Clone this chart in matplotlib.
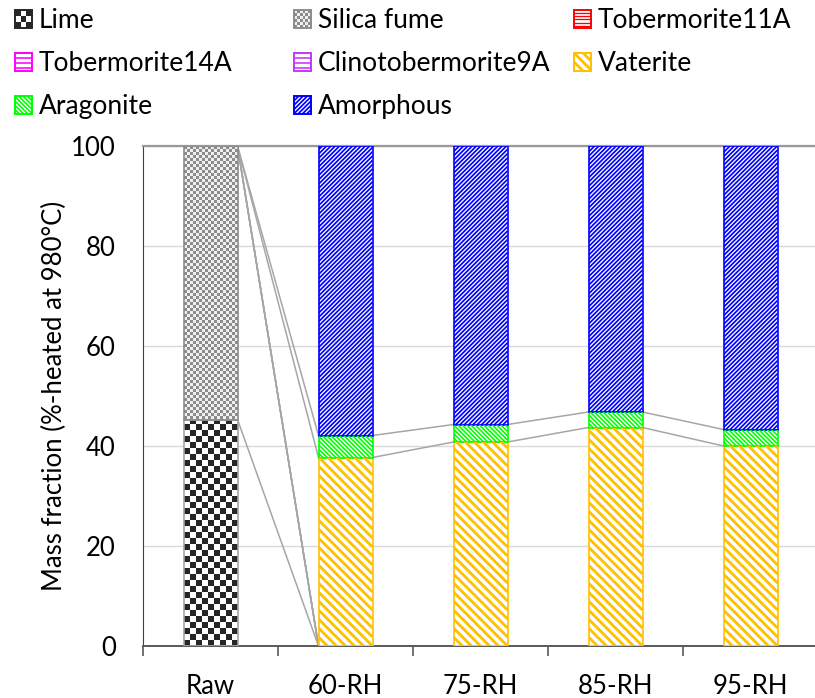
import numpy as np
import matplotlib
matplotlib.use("Agg")
import matplotlib.pyplot as plt
from matplotlib.patches import Rectangle
from matplotlib.collections import LineCollection
from matplotlib.legend_handler import HandlerBase
from matplotlib.colors import to_rgb

plt.rcParams["font.family"] = ["Lato", "DejaVu Sans"]

# sample groups and phase mass fractions (%)
categories = ["Raw", "60-RH", "75-RH", "85-RH", "95-RH"]
phases = ["Lime", "Silica fume", "Tobermorite11A", "Tobermorite14A",
          "Clinotobermorite9A", "Vaterite", "Aragonite", "Amorphous"]
lime = [45.3, 0.0, 0.0, 0.0, 0.0]
silica_fume = [54.7, 0.0, 0.0, 0.0, 0.0]
tobermorite11a = [0.0, 0.0, 0.0, 0.0, 0.0]
tobermorite14a = [0.0, 0.0, 0.0, 0.0, 0.0]
clinotobermorite9a = [0.0, 0.0, 0.0, 0.0, 0.0]
vaterite = [0.0, 37.7, 40.8, 43.7, 40.0]
aragonite = [0.0, 4.4, 3.5, 3.1, 3.3]
amorphous = [0.0, 57.9, 55.7, 53.2, 56.7]

series = [lime, silica_fume, tobermorite11a, tobermorite14a,
          clinotobermorite9a, vaterite, aragonite, amorphous]

DPI = 100
BAR_WIDTH = 0.40
FONT_TICK = 18.5
FONT_LEGEND = 19

# checkerboard fills: cell size in pixels
CHECKER = {
    "Lime": {"cell_px": 6.0, "dark": "#262626", "light": "#ffffff",
             "edge": "#a6a6a6", "legend_n": 3, "legend_edge": "#262626"},
    "Silica fume": {"cell_px": 3.0, "dark": "#8c8c8c", "light": "#f0f0f0",
                    "edge": "#8c8c8c", "legend_n": 6, "legend_edge": "#8c8c8c"},
}
# stripe fills: colour, direction ('/', '\\' or '-'), period in pixels, line width in pixels
STRIPES = {
    "Tobermorite11A": ("#FF0000", "-", 3.4, 1.3),
    "Tobermorite14A": ("#FF00FF", "-", 5.0, 1.6),
    "Clinotobermorite9A": ("#CC33FF", "-", 5.0, 1.6),
    "Vaterite": ("#FFC000", "\\", 9.0, 2.8),
    "Aragonite": ("#00FF00", "\\", 4.3, 1.6),
    "Amorphous": ("#0000FF", "/", 4.3, 1.7),
}


def stripe_segments(x0, y0, x1, y1, direction, period):
    # long segments across the box; clipping trims them to the box
    segs = []
    if direction == "-":
        for yy in np.arange(y0 + period / 2, y1, period):
            segs.append([(x0, yy), (x1, yy)])
    elif direction == "/":
        for c in np.arange(y0 - x1, y1 - x0 + period, period):
            segs.append([(x0, x0 + c), (x1, x1 + c)])
    else:
        for c in np.arange(x0 + y0, x1 + y1 + period, period):
            segs.append([(x0, c - x0), (x1, c - x1)])
    return segs


def stripe_fill(ax, bar, color, direction, period_px, lw_px):
    x, y, w, h = bar.get_x(), bar.get_y(), bar.get_width(), bar.get_height()
    (px0, py0), (px1, py1) = ax.transData.transform([(x, y), (x + w, y + h)])
    segs = stripe_segments(px0, py0, px1, py1, direction, period_px)
    inv = ax.transData.inverted()
    segs = [inv.transform(np.array(s)) for s in segs]
    lc = LineCollection(segs, colors=color, linewidths=lw_px * 72 / DPI,
                        zorder=bar.get_zorder() + 0.1)
    ax.add_collection(lc, autolim=False)
    lc.set_clip_path(bar)


def checker_fill(ax, bar, cell_px, dark, light):
    x, y, w, h = bar.get_x(), bar.get_y(), bar.get_width(), bar.get_height()
    p0, p1 = ax.transData.transform([(0, 0), (1, 1)])
    px_per_x, px_per_y = p1[0] - p0[0], p1[1] - p0[1]
    ncol = max(1, int(round(w * px_per_x / cell_px)))
    cell_y = cell_px / px_per_y
    nrow = int(np.ceil(h / cell_y))
    rr, cc = np.indices((nrow, ncol))
    mask = (rr + cc) % 2 == 0
    rgb = np.where(mask[..., None], np.array(to_rgb(dark)), np.array(to_rgb(light)))
    im = ax.imshow(rgb, extent=(x, x + w, y, y + nrow * cell_y), origin="lower",
                   interpolation="nearest", aspect="auto", zorder=2)
    im.set_clip_path(bar)


class CheckerHandler(HandlerBase):
    def __init__(self, n, dark, light, edge):
        super().__init__()
        self.n, self.dark, self.light, self.edge = n, dark, light, edge

    def create_artists(self, legend, orig_handle, xdescent, ydescent,
                       width, height, fontsize, trans):
        x0, y0 = -xdescent, -ydescent
        arts = [Rectangle((x0, y0), width, height, facecolor=self.light,
                          edgecolor="none", transform=trans)]
        cw, ch = width / self.n, height / self.n
        for r in range(self.n):
            for c in range(self.n):
                if (r + c) % 2 == 0:
                    arts.append(Rectangle((x0 + c * cw, y0 + r * ch), cw, ch,
                                          facecolor=self.dark, lw=0, transform=trans))
        arts.append(Rectangle((x0, y0), width, height, facecolor="none",
                              edgecolor=self.edge, lw=1.4, transform=trans))
        return arts


class StripeHandler(HandlerBase):
    def __init__(self, color, direction, period_px, lw_px):
        super().__init__()
        self.color, self.direction = color, direction
        self.period, self.lw = period_px, lw_px

    def create_artists(self, legend, orig_handle, xdescent, ydescent,
                       width, height, fontsize, trans):
        x0, y0 = -xdescent, -ydescent
        box = Rectangle((x0, y0), width, height, facecolor="white",
                        edgecolor=self.color, lw=1.4, transform=trans)
        # handle box units are points
        segs = stripe_segments(x0, y0, x0 + width, y0 + height, self.direction,
                               self.period * 72 / DPI)
        lc = LineCollection(segs, colors=self.color, linewidths=self.lw * 72 / DPI,
                            transform=trans)
        lc.set_clip_path(box)
        return [box, lc]


fig = plt.figure(figsize=(8.15, 6.98), dpi=DPI)
ax = fig.add_axes([143 / 815, 52 / 698, 675 / 815, 500 / 698])

x = np.arange(len(categories))
ax.set_xlim(-0.5, len(categories) - 0.5)
ax.set_ylim(0, 100)

bottom = np.zeros(len(categories))
tops = []
handles = {}
handler_map = {}
for name, values in zip(phases, series):
    vals = np.array(values, dtype=float)
    if name in CHECKER:
        cfg = CHECKER[name]
        bars = ax.bar(x, vals, BAR_WIDTH, bottom=bottom, facecolor="none",
                      edgecolor=cfg["edge"], linewidth=1.2, zorder=3)
        for b, v in zip(bars, vals):
            if v > 0:
                checker_fill(ax, b, cfg["cell_px"], cfg["dark"], cfg["light"])
        handler = CheckerHandler(cfg["legend_n"], cfg["dark"], cfg["light"], cfg["legend_edge"])
    else:
        color, direction, period, lw = STRIPES[name]
        bars = ax.bar(x, vals, BAR_WIDTH, bottom=bottom, facecolor="white",
                      edgecolor=color, linewidth=1.2, zorder=3)
        for b, v in zip(bars, vals):
            if v > 0:
                stripe_fill(ax, b, color, direction, period, lw)
        handler = StripeHandler(color, direction, period, lw)
    for b, v in zip(bars, vals):
        if v <= 0:
            b.set_visible(False)
    handles[name] = Rectangle((0, 0), 1, 1)
    handler_map[handles[name]] = handler
    bottom = bottom + vals
    tops.append(bottom.copy())

# series lines joining segment tops of neighbouring bars
for top in tops:
    for i in range(len(categories) - 1):
        ax.plot([x[i] + BAR_WIDTH / 2, x[i + 1] - BAR_WIDTH / 2],
                [top[i], top[i + 1]], color="#a6a6a6", lw=1.1, zorder=1)

# axes styling
ax.set_yticks([0, 20, 40, 60, 80, 100])
ax.yaxis.grid(True, color="#d9d9d9", lw=1.0, zorder=0)
ax.set_axisbelow(True)
ax.tick_params(axis="y", length=0, pad=19.5, labelsize=FONT_TICK)
ax.set_xticks(x)
ax.set_xticklabels(categories)
ax.set_xticks(np.arange(len(categories) + 1) - 0.5, minor=True)
ax.tick_params(axis="x", which="major", length=0, pad=20, labelsize=FONT_TICK)
ax.tick_params(axis="x", which="minor", length=7, width=1.2, color="#595959",
               direction="out")
ax.spines["left"].set_color("#404040")
ax.spines["bottom"].set_color("#595959")
ax.spines["bottom"].set_linewidth(1.4)
ax.spines["top"].set_color("#999999")
ax.spines["top"].set_linewidth(1.6)
ax.spines["right"].set_visible(False)
ax.set_ylabel("Mass fraction (%-heated at 980°C)", fontsize=FONT_TICK)
ax.yaxis.set_label_coords(-0.113, 0.5)

# legend laid out in three fixed-width columns
columns = [["Lime", "Tobermorite14A", "Aragonite"],
           ["Silica fume", "Clinotobermorite9A", "Amorphous"],
           ["Tobermorite11A", "Vaterite"]]
col_x = [15, 294, 574]
for names, cx in zip(columns, col_x):
    fig.legend([handles[n] for n in names], names, loc="upper left",
               bbox_to_anchor=(cx / 815, 1 - 8.5 / 698), frameon=False,
               borderpad=0, borderaxespad=0, handlelength=0.645, handleheight=0.645,
               handletextpad=0.25, labelspacing=0.68, fontsize=FONT_LEGEND,
               handler_map=handler_map)

fig.savefig("out.png", dpi=DPI)
